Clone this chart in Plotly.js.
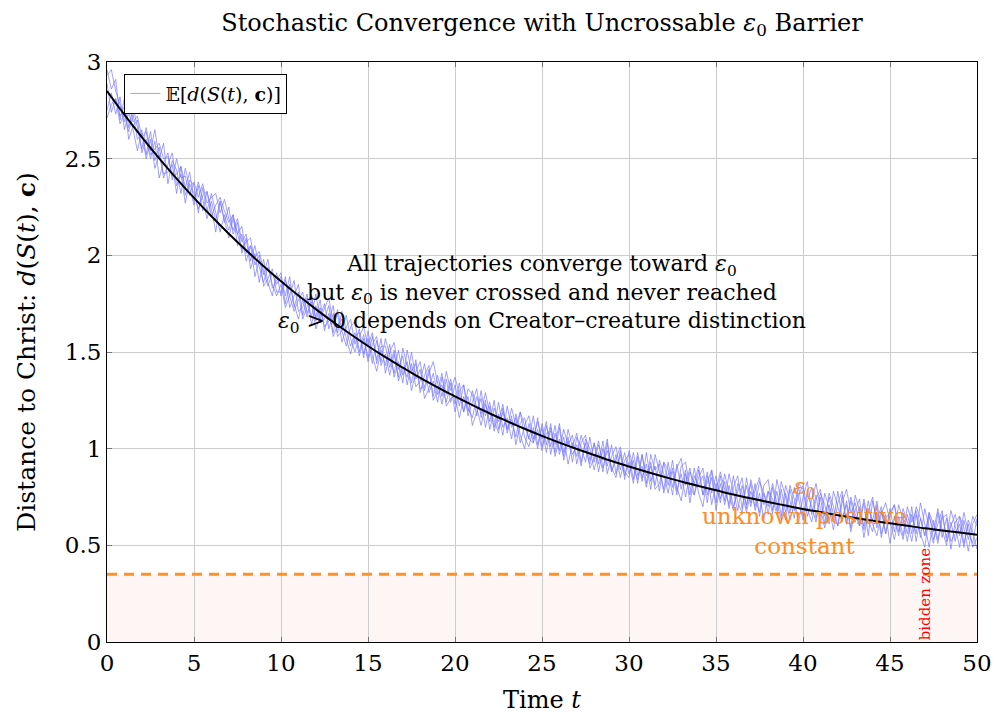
<!DOCTYPE html>
<html>
<head>
<meta charset="utf-8">
<script src="https://cdn.plot.ly/plotly-3.0.1.min.js"></script>
<style>html,body{margin:0;padding:0;background:#fff;}#chart{width:996px;height:715px;}</style>
</head>
<body>
<div id="chart"></div>
<script>
// ---- Data ----
const timeStep = 0.25;          // trajectory sampling step in t
const epsilon0 = 0.35;          // barrier level
const meanTimes = [0,1,2,3,4,5,6,7,8,9,10,11,12,13,14,15,16,17,18,19,20,21,22,23,24,25,26,27,28,29,30,31,32,33,34,35,36,37,38,39,40,41,42,43,44,45,46,47,48,49,50];
const meanDistance = [2.850,2.728,2.612,2.502,2.397,2.297,2.202,2.112,2.026,1.944,1.866,1.792,1.722,1.655,1.592,1.531,1.473,1.419,1.366,1.317,1.270,1.225,1.182,1.142,1.103,1.066,1.031,0.998,0.967,0.936,0.908,0.881,0.855,0.830,0.807,0.785,0.763,0.743,0.724,0.706,0.688,0.672,0.656,0.641,0.627,0.614,0.601,0.588,0.577,0.566,0.555];

const trajA = [2.96,2.86,2.91,2.70,2.81,2.66,2.77,2.66,2.55,2.66,2.54,2.65,2.50,2.58,2.37,2.49,2.44,2.32,2.45,2.35,
2.26,2.36,2.23,2.33,2.24,2.12,2.28,2.17,2.25,2.11,2.17,2.01,2.09,1.93,2.01,1.86,1.98,1.86,1.79,1.91,
1.79,1.89,1.73,1.79,1.85,1.69,1.78,1.68,1.80,1.67,1.73,1.78,1.64,1.70,1.55,1.63,1.67,1.54,1.62,1.49,
1.57,1.44,1.56,1.45,1.57,1.48,1.39,1.51,1.38,1.45,1.30,1.40,1.45,1.30,1.39,1.45,1.34,1.23,1.36,1.24,
1.33,1.22,1.33,1.17,1.24,1.31,1.16,1.25,1.10,1.21,1.14,1.23,1.08,1.17,1.02,1.13,1.16,1.05,1.17,1.02,
1.11,0.98,1.11,1.02,1.13,0.98,1.06,0.93,1.06,1.01,0.93,1.06,0.93,1.02,0.94,1.05,0.88,0.97,0.85,0.94,
0.97,0.84,0.98,0.85,0.92,0.79,0.97,0.88,0.79,0.93,0.80,0.90,0.95,0.81,0.90,0.76,0.85,0.90,0.76,0.85,
0.72,0.86,0.73,0.87,0.78,0.68,0.81,0.71,0.82,0.68,0.77,0.63,0.78,0.74,0.66,0.79,0.67,0.81,0.74,0.62,
0.75,0.83,0.66,0.76,0.61,0.77,0.69,0.58,0.72,0.78,0.61,0.73,0.62,0.70,0.54,0.67,0.75,0.59,0.68,0.56,
0.69,0.57,0.71,0.63,0.52,0.66,0.56,0.72,0.61,0.49,0.63,0.53,0.66,0.54,0.68,0.60,0.49,0.63,0.53,0.65,
0.60];

const trajB = [2.75,2.84,2.73,2.82,2.65,2.74,2.65,2.54,2.65,2.52,2.64,2.49,2.56,2.40,2.47,2.53,2.36,2.42,2.27,2.39,
2.36,2.22,2.35,2.23,2.32,2.22,2.12,2.21,2.13,2.21,2.05,2.11,1.97,2.05,1.89,1.98,1.90,1.98,1.83,1.87,
1.91,1.75,1.85,1.75,1.67,1.77,1.68,1.78,1.68,1.77,1.61,1.70,1.60,1.72,1.61,1.53,1.63,1.66,1.50,1.59,
1.47,1.58,1.46,1.57,1.39,1.50,1.55,1.41,1.48,1.33,1.44,1.32,1.35,1.44,1.29,1.35,1.24,1.37,1.28,1.36,
1.23,1.34,1.19,1.27,1.12,1.19,1.26,1.11,1.22,1.11,1.24,1.11,1.16,1.05,1.18,1.07,1.00,1.13,1.03,1.10,
0.99,1.12,1.01,1.12,0.97,1.06,0.92,1.03,0.96,1.07,0.99,0.92,1.03,0.88,1.00,0.91,1.02,0.87,0.99,0.88,
0.85,0.98,0.86,0.91,0.80,0.93,0.81,0.94,0.87,0.77,0.90,0.80,0.73,0.87,0.76,0.90,0.77,0.70,0.86,0.77,
0.86,0.74,0.83,0.69,0.80,0.86,0.69,0.81,0.70,0.82,0.65,0.77,0.70,0.82,0.72,0.63,0.77,0.67,0.80,0.74,
0.63,0.73,0.80,0.64,0.75,0.61,0.77,0.70,0.60,0.72,0.79,0.67,0.72,0.60,0.74,0.63,0.57,0.71,0.54,0.66,
0.51,0.65,0.55,0.69,0.62,0.52,0.66,0.54,0.69,0.59,0.51,0.67,0.54,0.64,0.48,0.62,0.65,0.51,0.61,0.49,
0.54];

const trajC = [2.89,2.74,2.81,2.72,2.77,2.60,2.67,2.70,2.53,2.60,2.50,2.59,2.40,2.48,2.53,2.39,2.50,2.40,2.41,2.31,
2.38,2.30,2.37,2.27,2.30,2.32,2.22,2.29,2.19,2.13,2.19,2.07,2.11,1.97,2.05,1.94,1.86,1.94,1.85,1.79,
1.85,1.73,1.79,1.71,1.77,1.81,1.70,1.76,1.62,1.69,1.75,1.62,1.70,1.60,1.71,1.61,1.53,1.60,1.48,1.57,
1.45,1.54,1.58,1.43,1.49,1.38,1.49,1.37,1.52,1.43,1.34,1.46,1.29,1.38,1.43,1.27,1.38,1.27,1.40,1.30,
1.37,1.28,1.19,1.31,1.28,1.17,1.30,1.17,1.24,1.09,1.18,1.07,1.22,1.11,1.16,1.03,1.12,1.17,1.05,1.14,
1.05,1.14,0.97,1.08,0.99,1.10,1.02,1.07,0.92,1.03,1.07,0.94,1.03,0.92,1.04,0.87,0.96,1.01,0.89,0.98,
0.87,0.94,0.82,0.97,0.86,0.91,0.79,0.82,0.93,0.81,0.94,0.78,0.87,0.75,0.88,0.82,0.91,0.76,0.88,0.71,
0.82,0.72,0.87,0.77,0.68,0.82,0.77,0.67,0.78,0.70,0.83,0.77,0.66,0.80,0.68,0.83,0.75,0.63,0.72,0.80,
0.65,0.77,0.70,0.62,0.77,0.71,0.61,0.78,0.70,0.62,0.73,0.59,0.76,0.68,0.60,0.73,0.61,0.55,0.66,0.72,
0.63,0.53,0.65,0.55,0.70,0.62,0.68,0.56,0.49,0.65,0.57,0.69,0.58,0.50,0.62,0.52,0.65,0.59,0.47,0.61,
0.66];

const trajD = [2.71,2.78,2.81,2.68,2.73,2.64,2.73,2.60,2.63,2.50,2.60,2.45,2.52,2.42,2.43,2.47,2.32,2.46,2.35,2.43,
2.28,2.38,2.29,2.19,2.28,2.18,2.28,2.19,2.09,2.19,2.11,2.03,2.07,2.09,1.95,2.00,1.84,1.88,1.93,1.81,
1.81,1.87,1.79,1.87,1.71,1.73,1.80,1.64,1.74,1.65,1.67,1.74,1.58,1.64,1.67,1.57,1.49,1.58,1.60,1.47,
1.61,1.48,1.40,1.51,1.43,1.54,1.37,1.45,1.34,1.51,1.40,1.44,1.31,1.32,1.41,1.25,1.30,1.39,1.22,1.26,
1.27,1.16,1.27,1.19,1.30,1.21,1.12,1.23,1.14,1.25,1.10,1.19,1.10,1.21,1.12,1.19,1.06,1.01,1.11,1.00,
1.13,1.02,1.13,0.96,1.05,0.96,1.10,1.01,1.08,0.93,1.03,0.90,0.95,1.04,0.90,0.99,0.90,0.85,0.97,0.86,
0.93,0.82,0.96,0.83,0.98,0.83,0.91,0.78,0.93,0.89,0.76,0.92,0.79,0.89,0.72,0.86,0.81,0.86,0.72,0.89,
0.68,0.82,0.71,0.81,0.70,0.78,0.85,0.69,0.84,0.74,0.67,0.81,0.84,0.68,0.78,0.65,0.81,0.73,0.64,0.82,
0.79,0.65,0.74,0.82,0.69,0.59,0.71,0.62,0.78,0.64,0.71,0.57,0.68,0.74,0.58,0.69,0.63,0.73,0.56,0.64,
0.67,0.71,0.57,0.65,0.56,0.70,0.52,0.64,0.55,0.67,0.61,0.51,0.64,0.66,0.52,0.56,0.61,0.49,0.63,0.57,
0.48];

const trajE = [2.93,2.96,2.85,2.78,2.69,2.78,2.69,2.72,2.61,2.64,2.52,2.55,2.58,2.50,2.51,2.41,2.42,2.46,2.31,2.37,
2.32,2.24,2.31,2.33,2.20,2.26,2.30,2.23,2.17,2.21,2.11,2.15,2.01,2.05,1.99,2.02,1.92,1.84,1.91,1.85,
1.89,1.79,1.89,1.73,1.81,1.67,1.74,1.80,1.66,1.73,1.63,1.66,1.74,1.58,1.61,1.69,1.57,1.50,1.58,1.63,
1.53,1.60,1.44,1.53,1.53,1.42,1.51,1.35,1.42,1.37,1.50,1.36,1.41,1.26,1.31,1.39,1.28,1.33,1.24,1.34,
1.19,1.30,1.33,1.21,1.16,1.27,1.18,1.29,1.18,1.15,1.08,1.21,1.10,1.15,1.06,1.19,1.12,1.05,1.03,1.16,
1.01,1.08,1.09,0.98,1.11,0.94,1.04,0.97,1.02,0.91,1.05,1.00,0.89,0.98,0.88,1.03,0.88,0.95,1.01,0.84,
0.99,0.90,0.84,0.97,0.82,0.97,0.89,0.92,0.77,0.87,0.88,0.76,0.91,0.93,0.80,0.76,0.89,0.76,0.82,0.89,
0.78,0.88,0.79,0.71,0.86,0.72,0.67,0.85,0.72,0.78,0.85,0.71,0.78,0.66,0.84,0.73,0.63,0.79,0.68,0.76,
0.81,0.69,0.62,0.74,0.79,0.65,0.75,0.66,0.60,0.76,0.61,0.75,0.66,0.60,0.72,0.55,0.73,0.63,0.70,0.56,
0.65,0.71,0.61,0.53,0.66,0.56,0.70,0.64,0.55,0.67,0.53,0.61,0.68,0.52,0.60,0.66,0.55,0.67,0.57,0.51,
0.64];

const trajectories = [trajA, trajB, trajC, trajD, trajE];
const xTicks = [0,5,10,15,20,25,30,35,40,45,50];
const yTicks = [0,0.5,1,1.5,2,2.5,3];
const yTickLabels = ['0','0.5','1','1.5','2','2.5','3'];

// ---- Build traces ----
const trajTimes = trajA.map((_, i) => i * timeStep);
const FONT = 'DejaVu Serif, serif';
const traces = [];
trajectories.forEach((ys, k) => {
  traces.push({
    x: trajTimes, y: ys, type: 'scatter', mode: 'lines',
    line: {color: 'rgb(120,120,255)', width: 1},
    opacity: 0.7,
    name: '𝔼[<i>d</i>(<i>S</i>(<i>t</i>), <b>c</b>)]',
    showlegend: k === 0, hoverinfo: 'skip'
  });
});
traces.push({
  x: [0, 50], y: [epsilon0, epsilon0], type: 'scatter', mode: 'lines',
  line: {color: 'rgb(255,145,40)', width: 3, dash: '10px,7px'},
  showlegend: false, hoverinfo: 'skip'
});
traces.push({
  x: meanTimes, y: meanDistance, type: 'scatter', mode: 'lines',
  line: {color: 'black', width: 2, shape: 'spline'},
  showlegend: false
});

const layout = {
  width: 996, height: 715,
  margin: {l: 107, r: 19, t: 62, b: 73},
  paper_bgcolor: 'white', plot_bgcolor: 'white',
  font: {family: FONT, size: 22, color: 'black'},
  title: {
    text: 'Stochastic Convergence with Uncrossable <i>ε</i><sub>0</sub> Barrier',
    x: 0.5, xref: 'paper', y: 0.969, yref: 'container', yanchor: 'middle',
    font: {family: FONT, size: 24, color: 'black'}
  },
  xaxis: {
    range: [0, 50], tickvals: xTicks, ticktext: xTicks.map(String),
    showgrid: true, gridcolor: '#cccccc', gridwidth: 1, zeroline: false,
    showline: true, linecolor: 'black', linewidth: 1, mirror: 'ticks',
    ticks: 'inside', ticklen: 5, tickcolor: '#777',
    tickfont: {family: FONT, size: 23},
    title: {text: 'Time <i>t</i>', font: {family: FONT, size: 24}, standoff: 16}
  },
  yaxis: {
    range: [0, 3], tickvals: yTicks, ticktext: yTickLabels,
    showgrid: true, gridcolor: '#cccccc', gridwidth: 1, zeroline: false,
    showline: true, linecolor: 'black', linewidth: 1, mirror: 'ticks',
    ticks: 'inside', ticklen: 5, tickcolor: '#777',
    tickfont: {family: FONT, size: 23},
    title: {text: 'Distance to Christ: <i>d</i>(<i>S</i>(<i>t</i>), <b>c</b>)', font: {family: FONT, size: 25}, standoff: 22}
  },
  legend: {
    x: 0.02, y: 0.98, xanchor: 'left', yanchor: 'top',
    bgcolor: 'white', bordercolor: 'black', borderwidth: 1,
    font: {family: FONT, size: 19}
  },
  shapes: [{
    type: 'rect', xref: 'x', yref: 'y', x0: 0, x1: 50, y0: 0, y1: epsilon0,
    fillcolor: 'rgba(230,60,60,0.05)', line: {width: 0}, layer: 'below'
  }],
  annotations: [
    {
      x: 25, y: 1.8, xref: 'x', yref: 'y', showarrow: false,
      text: 'All trajectories converge toward <i>ε</i><sub>0</sub><br>but <i>ε</i><sub>0</sub> is never crossed and never reached<br><i>ε</i><sub>0</sub> > 0 depends on Creator–creature distinction',
      font: {family: FONT, size: 22, color: 'black'}, align: 'center'
    },
    {
      x: 40.1, y: 0.65, xref: 'x', yref: 'y', showarrow: false,
      text: '<i>ε</i><sub>0</sub><br>unknown positive<br>constant',
      font: {family: FONT, size: 23, color: 'rgb(255,140,30)'}, align: 'center'
    },
    {
      x: 47, y: 0, xref: 'x', yref: 'y', showarrow: false,
      text: 'bidden zone', textangle: -90,
      xanchor: 'center', yanchor: 'bottom',
      font: {family: FONT, size: 15, color: 'red'}
    }
  ]
};

Plotly.newPlot('chart', traces, layout, {displayModeBar: false, staticPlot: true});
</script>
</body>
</html>
